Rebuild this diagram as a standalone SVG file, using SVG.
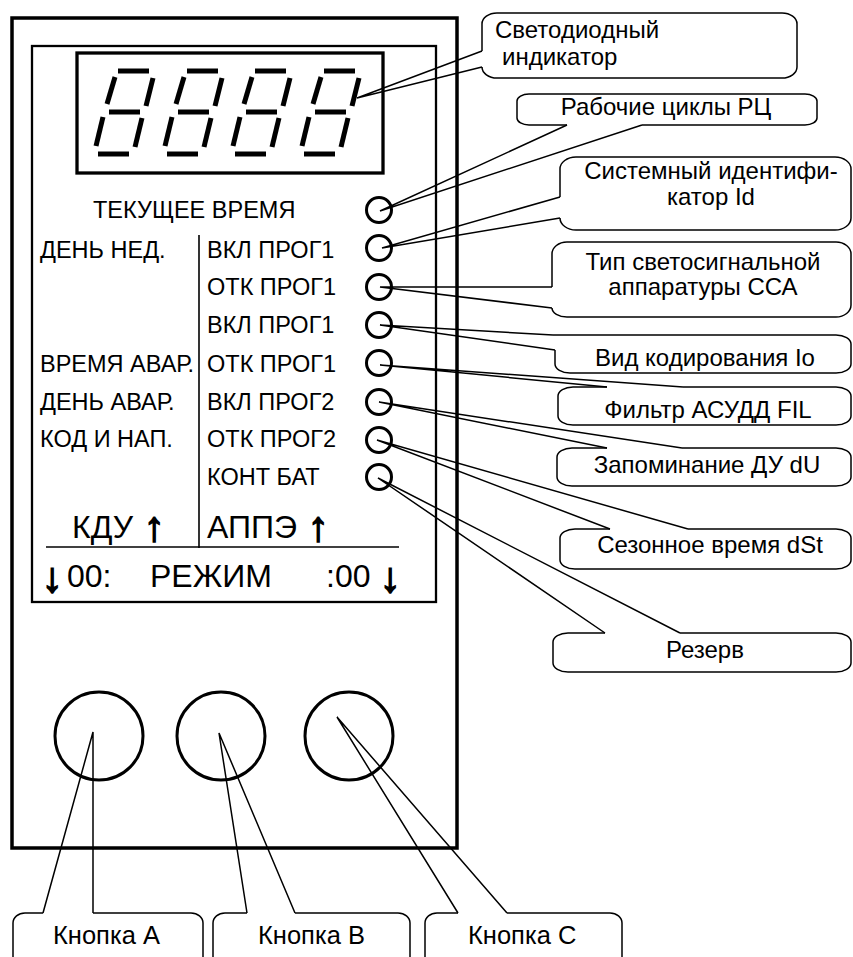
<svg xmlns="http://www.w3.org/2000/svg" xmlns:xlink="http://www.w3.org/1999/xlink" width="853" height="957" viewBox="0 0 853 957">
<style>
text{font-family:"Liberation Sans",Arial,sans-serif;fill:#000}
.t{font-size:23.5px}
.c{font-size:24px}
.k{font-size:25.5px}
.b{font-size:32px}
.m{text-anchor:middle}
.arr{font-size:42px;text-anchor:middle;stroke:#000;stroke-width:1.6}
.box{fill:none;stroke:#000;stroke-width:1.5;stroke-linejoin:round}
.tail{fill:none;stroke:#000;stroke-width:1.5;stroke-linejoin:miter}
.seg{stroke:#000;stroke-width:5;stroke-linecap:butt}
.led{fill:none;stroke:#000;stroke-width:3}
.btn{fill:none;stroke:#000;stroke-width:3}
</style>
<defs>
<g id="digit" class="seg">
<line x1="118" y1="71" x2="149" y2="71"/>
<line x1="109" y1="112" x2="140" y2="112"/>
<line x1="98" y1="154" x2="129" y2="154"/>
<line x1="115" y1="77" x2="107" y2="104"/>
<line x1="153" y1="78" x2="146" y2="106"/>
<line x1="103" y1="117" x2="96" y2="146"/>
<line x1="142" y1="118" x2="135" y2="147"/>
</g>
</defs>
<rect width="853" height="957" fill="#fff"/>

<g id="device">
<rect x="12" y="18" width="445" height="830" fill="none" stroke="#000" stroke-width="3.5"/>
<rect x="32" y="46" width="404" height="556" fill="none" stroke="#000" stroke-width="2.3"/>
</g>

<g id="led-display">
<rect x="77" y="53" width="306" height="120" fill="none" stroke="#000" stroke-width="3.3"/>
<use xlink:href="#digit"/>
<use xlink:href="#digit" transform="translate(69,0)"/>
<use xlink:href="#digit" transform="translate(137,0)"/>
<use xlink:href="#digit" transform="translate(206,0)"/>
</g>

<g id="panel-labels">
<text class="t" x="93" y="218">ТЕКУЩЕЕ ВРЕМЯ</text>
<text class="t" x="40" y="258">ДЕНЬ НЕД.</text>
<text class="t" x="40" y="372">ВРЕМЯ АВАР.</text>
<text class="t" x="40" y="410">ДЕНЬ АВАР.</text>
<text class="t" x="40" y="447">КОД И НАП.</text>
<text class="t" x="207" y="258">ВКЛ ПРОГ1</text>
<text class="t" x="207" y="295">ОТК ПРОГ1</text>
<text class="t" x="207" y="333">ВКЛ ПРОГ1</text>
<text class="t" x="207" y="372">ОТК ПРОГ1</text>
<text class="t" x="207" y="410">ВКЛ ПРОГ2</text>
<text class="t" x="207" y="447">ОТК ПРОГ2</text>
<text class="t" x="207" y="485">КОНТ БАТ</text>
<line x1="199" y1="235" x2="199" y2="548" stroke="#000" stroke-width="1.6"/>
<line x1="46" y1="547" x2="399" y2="547" stroke="#000" stroke-width="1.6"/>
<text class="b" x="72" y="538">КДУ</text>
<text class="arr" x="154" y="541">↑</text>
<text class="b" x="207" y="538">АППЭ</text>
<text class="arr" x="318" y="541">↑</text>
<text class="arr" x="52" y="592">↓</text>
<text class="b" x="67" y="587">00:</text>
<text class="b" x="150" y="587">РЕЖИМ</text>
<text class="b" x="326" y="587">:00</text>
<text class="arr" x="390" y="592">↓</text>
</g>

<g id="indicators">
<circle class="led" cx="379" cy="210" r="12.5"/>
<circle class="led" cx="379" cy="248" r="12.5"/>
<circle class="led" cx="379" cy="287" r="12.5"/>
<circle class="led" cx="379" cy="325" r="12.5"/>
<circle class="led" cx="379" cy="363" r="12.5"/>
<circle class="led" cx="379" cy="402" r="12.5"/>
<circle class="led" cx="379" cy="440" r="12.5"/>
<circle class="led" cx="379" cy="477" r="12.5"/>
</g>

<g id="buttons">
<circle class="btn" cx="99" cy="736" r="44"/>
<circle class="btn" cx="221" cy="736" r="44"/>
<circle class="btn" cx="349" cy="736" r="44"/>
</g>

<g id="connectors">
<polyline class="tail" points="482,67 357,98 482,51"/>
<polyline class="tail" points="567,125 380,211 642,125"/>
<polyline class="tail" points="560,218 382,248 560,197"/>
<polyline class="tail" points="552,308 380,287 552,287"/>
<polyline class="tail" points="555,350 380,325 553,335"/>
<polyline class="tail" points="607,387 380,365 683,387"/>
<polyline class="tail" points="607,448 379,402 682,448"/>
<polyline class="tail" points="610,529 377,440 688,529"/>
<polyline class="tail" points="605,633 378,478 680,633"/>
<polyline class="tail" points="43,913 93,732 93,913"/>
<polyline class="tail" points="247,913 219,733 295,913"/>
<polyline class="tail" points="458,913 337,717 507,913"/>
</g>

<g id="callout-led">
<path class="box" d="M482,51 V24 A15 11 0 0 1 497,13 H782 A15 11 0 0 1 797,24 V67 A15 11 0 0 1 782,78 H497 A15 11 0 0 1 482,67"/>
<text class="c" x="495" y="38">Светодиодный</text>
<text class="c" x="502" y="65">индикатор</text>
</g>
<g id="callout-rc">
<path class="box" d="M642,125 H805 A12 7 0 0 0 817,118 V101 A12 7 0 0 0 805,94 H529 A12 7 0 0 0 517,101 V118 A12 7 0 0 0 529,125 H567"/>
<text class="c m" x="666" y="115">Рабочие циклы РЦ</text>
</g>
<g id="callout-id">
<path class="box" d="M560,197 V169 A16 12 0 0 1 576,157 H835 A16 12 0 0 1 851,169 V218 A16 12 0 0 1 835,230 H576 A16 12 0 0 1 560,218"/>
<text class="c m" x="711" y="179">Системный идентифи-</text>
<text class="c m" x="711" y="205">катор Id</text>
</g>
<g id="callout-cca">
<path class="box" d="M552,287 V254 A15 12 0 0 1 567,242 H836 A15 12 0 0 1 851,254 V305 A15 12 0 0 1 836,317 H567 A15 9 0 0 1 552,308"/>
<text class="c m" x="703" y="270">Тип светосигнальной</text>
<text class="c m" x="703" y="295">аппаратуры ССА</text>
</g>
<g id="callout-io">
<path class="box" d="M553,335 H836 A15 9 0 0 1 851,344 V364 A15 9 0 0 1 836,373 H570 A15 9 0 0 1 555,364 V350"/>
<text class="c m" x="705" y="366">Вид кодирования Io</text>
</g>
<g id="callout-fil">
<path class="box" d="M683,387 H836 A15 9 0 0 1 851,396 V416 A15 9 0 0 1 836,425 H573 A15 9 0 0 1 558,416 V396 A15 9 0 0 1 573,387 H607"/>
<text class="c m" x="708" y="418">Фильтр АСУДД FIL</text>
</g>
<g id="callout-du">
<path class="box" d="M682,448 H836 A15 9 0 0 1 851,457 V477 A15 9 0 0 1 836,486 H572 A15 9 0 0 1 557,477 V457 A15 9 0 0 1 572,448 H607"/>
<text class="c m" x="707" y="473">Запоминание ДУ dU</text>
</g>
<g id="callout-dst">
<path class="box" d="M688,529 H836 A15 9 0 0 1 851,538 V560 A15 9 0 0 1 836,569 H575 A15 9 0 0 1 560,560 V538 A15 9 0 0 1 575,529 H610"/>
<text class="c m" x="710" y="553">Сезонное время dSt</text>
</g>
<g id="callout-res">
<path class="box" d="M680,633 H836 A15 9 0 0 1 851,642 V663 A15 9 0 0 1 836,672 H568 A15 9 0 0 1 553,663 V642 A15 9 0 0 1 568,633 H605"/>
<text class="c m" x="705" y="658">Резерв</text>
</g>
<g id="callout-a">
<path class="box" d="M93,913 H191 A12 10 0 0 1 203,923 V960 M43,913 H25 A12 10 0 0 0 13,923 V960"/>
<text class="k" x="53" y="944">Кнопка А</text>
</g>
<g id="callout-b">
<path class="box" d="M295,913 H398 A12 10 0 0 1 410,923 V960 M247,913 H225 A12 10 0 0 0 213,923 V960"/>
<text class="k" x="258" y="944">Кнопка В</text>
</g>
<g id="callout-c">
<path class="box" d="M507,913 H610 A12 10 0 0 1 622,923 V960 M458,913 H437 A12 10 0 0 0 425,923 V960"/>
<text class="k" x="468" y="944">Кнопка С</text>
</g>
</svg>
